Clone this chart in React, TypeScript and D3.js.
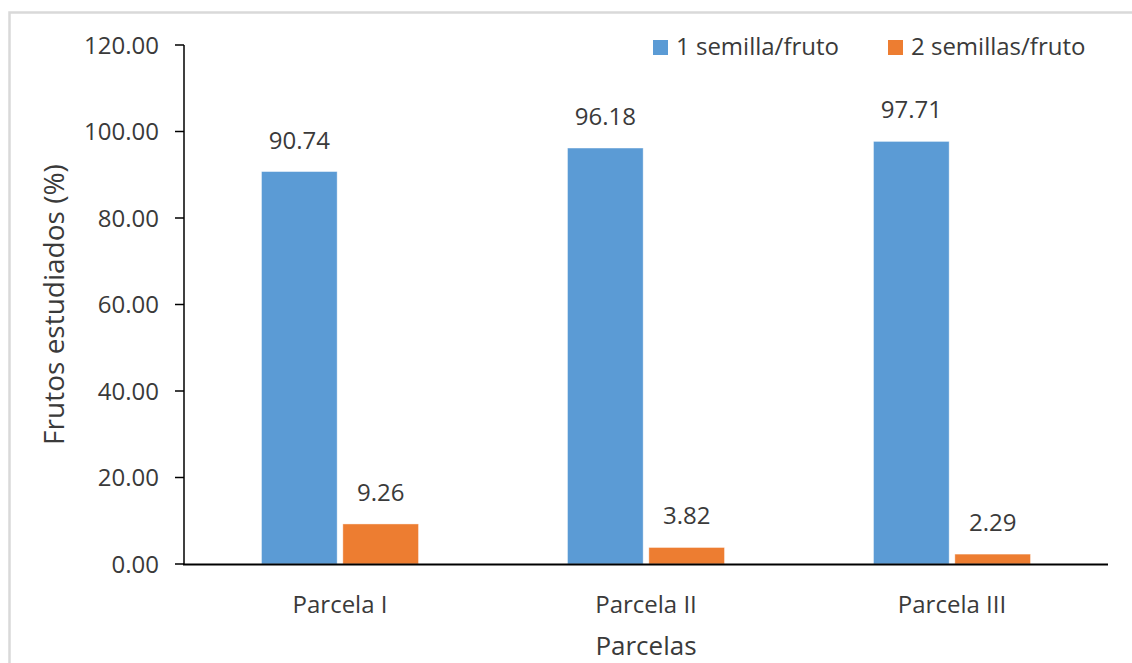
import React from "react";
import * as d3 from "d3";

// Percent of studied fruits by number of seeds, per plot
const categories = ["Parcela I", "Parcela II", "Parcela III"];
const seriesNames = ["1 semilla/fruto", "2 semillas/fruto"];
const oneSeed = [90.74, 96.18, 97.71];
const twoSeeds = [9.26, 3.82, 2.29];
const yTicks = [0, 20, 40, 60, 80, 100, 120];

const colors = ["#5B9BD5", "#ED7D31"];
const W = 1132;
const H = 663;
const FONT = "'Open Sans', 'Noto Sans', sans-serif";
const TEXT = "#3a3a3a";

export default function App() {
  const left = 184;
  const right = 1108;
  const top = 45;
  const bottom = 564;

  const x = d3.scaleBand<string>().domain(categories).range([left + 3, right - 3]).paddingInner(0).paddingOuter(0);
  const sub = d3.scaleBand<number>().domain([0, 1]).range([0, 157]).paddingInner(0.07);
  const y = d3.scaleLinear().domain([0, 120]).range([bottom, top]);

  const series = [oneSeed, twoSeeds];
  const groupOffset = (x.bandwidth() - 157) / 2;

  return (
    <svg
      width={W}
      height={H}
      style={{ position: "absolute", left: 0, top: 0, background: "#fff" }}
      fontFamily={FONT}
    >
      <rect x={0} y={0} width={W} height={H} fill="#fff" />
      {/* outer chart frame */}
      <rect x={9.5} y={12.5} width={W + 20} height={H + 20} fill="none" stroke="#d9d9d9" strokeWidth={2.5} />

      {/* bars */}
      {series.map((vals, si) =>
        vals.map((v, ci) => {
          const bx = (x(categories[ci]) as number) + groupOffset + (sub(si) as number);
          return (
            <g key={`${si}-${ci}`}>
              <rect
                x={bx}
                y={y(v)}
                width={sub.bandwidth()}
                height={bottom - y(v)}
                fill={colors[si]}
                stroke="#ffffff"
                strokeOpacity={0.5}
                strokeWidth={0.8}
              />
              <text
                x={bx + sub.bandwidth() / 2}
                y={y(v) - 23}
                textAnchor="middle"
                fontSize={24}
                fill={TEXT}
              >
                {v.toFixed(2)}
              </text>
            </g>
          );
        })
      )}

      {/* y axis */}
      <line x1={left} x2={left} y1={top} y2={bottom} stroke="#000" strokeWidth={1.5} />
      {yTicks.map((t) => (
        <g key={t}>
          <line x1={left - 9} x2={left} y1={y(t)} y2={y(t)} stroke="#000" strokeWidth={1.5} />
          <text x={left - 25} y={y(t)} dy="0.36em" textAnchor="end" fontSize={24} fill={TEXT}>
            {t.toFixed(2)}
          </text>
        </g>
      ))}

      {/* x axis */}
      <line x1={left - 1} x2={right} y1={bottom + 0.5} y2={bottom + 0.5} stroke="#000" strokeWidth={2.2} />
      {categories.map((c) => (
        <text
          key={c}
          x={(x(c) as number) + x.bandwidth() / 2}
          y={613}
          textAnchor="middle"
          fontSize={24}
          fill={TEXT}
        >
          {c}
        </text>
      ))}

      {/* axis titles */}
      <text x={646} y={655} textAnchor="middle" fontSize={26} fill={TEXT}>
        Parcelas
      </text>
      <text
        transform={`translate(64, ${(top + bottom) / 2}) rotate(-90)`}
        textAnchor="middle"
        fontSize={28}
        fill={TEXT}
      >
        Frutos estudiados (%)
      </text>

      {/* legend */}
      {seriesNames.map((n, i) => {
        const lx = [653, 888][i];
        return (
          <g key={n}>
            <rect x={lx} y={40} width={15} height={15} fill={colors[i]} />
            <text x={lx + 23} y={55} fontSize={24} fill={TEXT}>
              {n}
            </text>
          </g>
        );
      })}
    </svg>
  );
}
